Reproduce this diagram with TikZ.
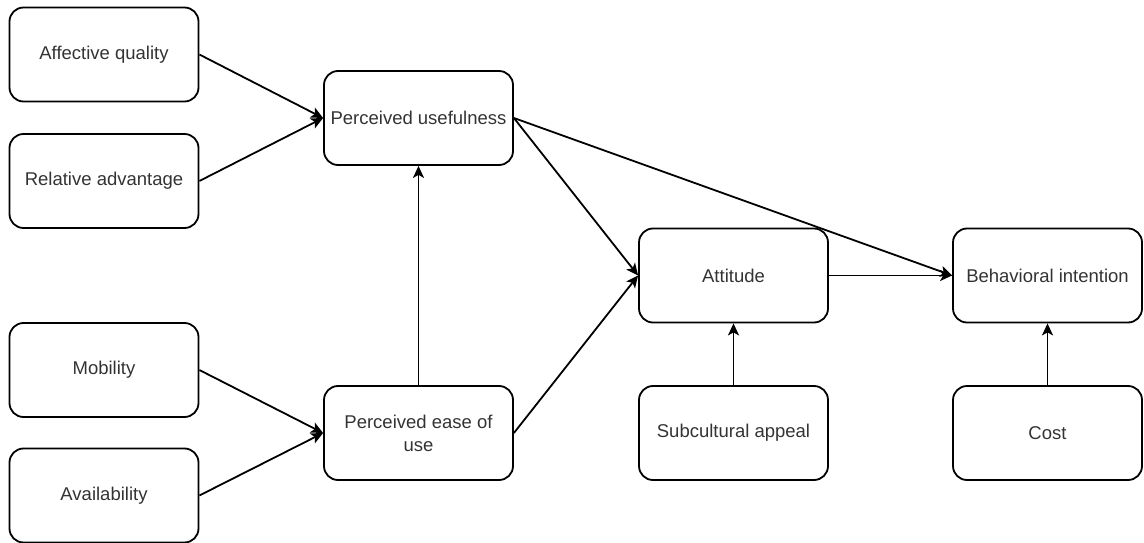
\documentclass[tikz,border=0pt]{standalone}
\usepackage{fontspec}
\setmainfont{Liberation Sans}
\usetikzlibrary{arrows.meta}
\definecolor{labelgray}{HTML}{333333}
\begin{document}
\begin{tikzpicture}[x=1pt,y=-1pt,
  factor/.style={draw=black, line width=1.8pt, rounded corners=14pt,
    minimum width=189pt, minimum height=94pt, inner sep=0pt,
    align=center, text=labelgray,
    font=\fontsize{18.5}{23}\selectfont},
  link/.style={draw=black, line width=1.8pt,
    -{Stealth[length=12pt,width=11pt,inset=3pt]}}]
  \useasboundingbox (0,0) rectangle (1144,543);

  % input factors
  \node[factor] (aq) at (104,54.5) {Affective quality};
  \node[factor] (ra) at (104,181) {Relative advantage};
  \node[factor] (mo) at (104,370) {Mobility};
  \node[factor] (av) at (104,495.5) {Availability};

  % TAM core
  \node[factor] (pu) at (418.5,118) {Perceived usefulness};
  \node[factor] (peu) at (418.5,433) {Perceived ease of\\use};
  \node[factor] (at) at (733.5,275.5) {Attitude};
  \node[factor] (sa) at (733.5,433) {Subcultural appeal};
  \node[factor] (bi) at (1047.5,275.5) {Behavioral intention};
  \node[factor] (co) at (1047.5,433) {Cost};

  % relations
  \draw[link] (aq.east) -- (pu.west);
  \draw[link] (ra.east) -- (pu.west);
  \draw[link] (mo.east) -- (peu.west);
  \draw[link] (av.east) -- (peu.west);
  \draw[link] (peu.north) -- (pu.south);
  \draw[link] (pu.east) -- (at.west);
  \draw[link] (peu.east) -- (at.west);
  \draw[link] (pu.east) -- (bi.west);
  \draw[link] (at.east) -- (bi.west);
  \draw[link] (sa.north) -- (at.south);
  \draw[link] (co.north) -- (bi.south);
\end{tikzpicture}
\end{document}
